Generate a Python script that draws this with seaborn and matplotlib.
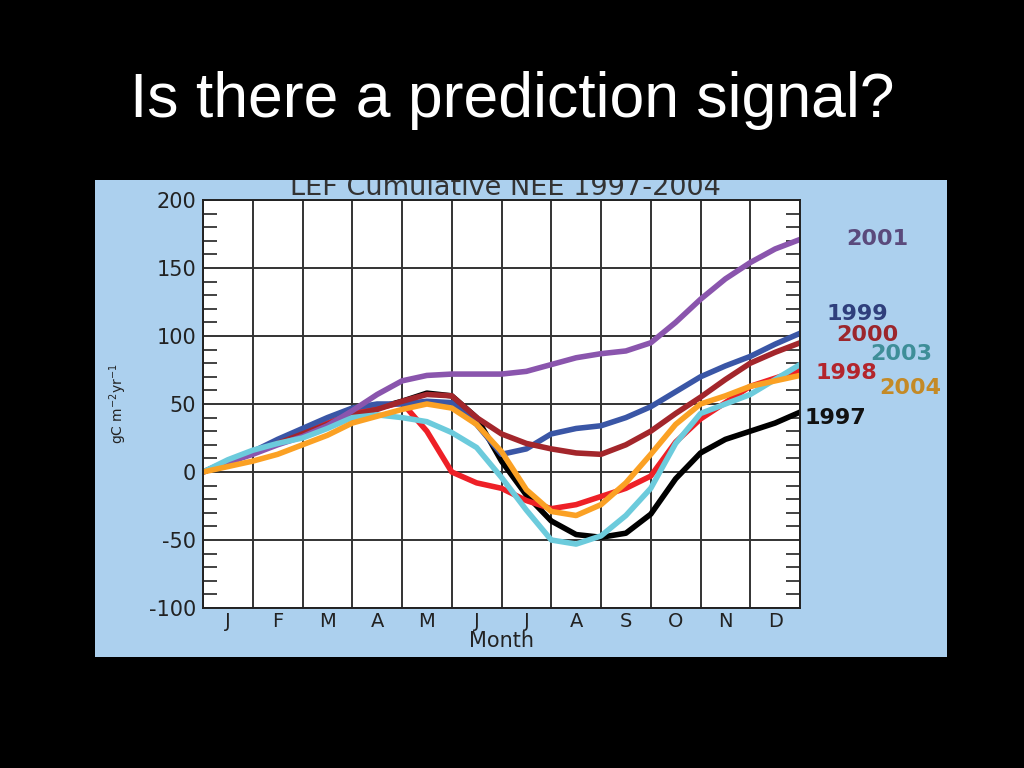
import numpy as np
import pandas as pd
import seaborn as sns
import matplotlib.pyplot as plt
from matplotlib.patches import Rectangle
from matplotlib.ticker import MultipleLocator
from matplotlib.transforms import Bbox, TransformedBbox

# Cumulative NEE at LEF, every half month

months = ["J", "F", "M", "A", "M", "J", "J", "A", "S", "O", "N", "D"]
t = np.arange(0, 12.5, 0.5)

nee_1997 = [0, 7, 14, 21, 28, 35, 43, 47, 52, 58, 56, 40, 8, -17, -36, -46, -48, -45, -31, -5, 14, 24, 30, 36, 44]
nee_1998 = [0, 7, 14, 22, 29, 36, 43, 47, 51, 30, 0, -8, -12, -21, -27, -24, -18, -12, -3, 22, 39, 51, 63, 69, 75]
nee_1999 = [0, 8, 15, 24, 32, 40, 47, 50, 50, 52, 51, 35, 13, 17, 28, 32, 34, 40, 48, 59, 70, 78, 85, 94, 102]
nee_2000 = [0, 7, 14, 21, 28, 35, 42, 46, 52, 57, 56, 40, 28, 21, 17, 14, 13, 20, 30, 43, 55, 68, 80, 88, 95]
nee_2001 = [0, 7, 13, 20, 26, 34, 45, 57, 67, 71, 72, 72, 72, 74, 79, 84, 87, 89, 95, 110, 127, 142, 154, 164, 171]
nee_2003 = [0, 9, 16, 21, 25, 32, 40, 42, 40, 37, 29, 18, -4, -28, -50, -53, -47, -32, -12, 21, 43, 50, 57, 68, 79]
nee_2004 = [0, 4, 8, 13, 20, 27, 36, 41, 46, 50, 47, 35, 15, -13, -29, -32, -24, -8, 13, 35, 50, 56, 63, 67, 71]

years = ["1997", "1998", "1999", "2000", "2001", "2003", "2004"]
series = [nee_1997, nee_1998, nee_1999, nee_2000, nee_2001, nee_2003, nee_2004]

line_colors = {"1997": "#000000", "1998": "#ee2027", "1999": "#3a56a6", "2000": "#a3262b",
               "2001": "#8a55ad", "2003": "#6ccbdc", "2004": "#fba124"}
label_colors = {"1997": "#111111", "1998": "#b3252c", "1999": "#2f3f7c", "2000": "#9c262c",
                "2001": "#5a4a7c", "2003": "#3e8e98", "2004": "#c48a26"}
# where the year names sit, in data units
label_pos = {"2001": (13.55, 171), "1999": (13.15, 116), "2000": (13.35, 101), "2003": (14.03, 87),
             "1998": (12.94, 73), "2004": (14.21, 62), "1997": (12.72, 40)}

df = pd.DataFrame({
    "month": np.tile(t, len(years)),
    "nee": np.concatenate(series),
    "year": np.repeat(years, len(t)),
})

sns.set_style("white")
plt.rcParams["font.family"] = ["DejaVu Sans"]

fig = plt.figure(figsize=(10.24, 7.68), dpi=100, facecolor="black")

# light blue panel behind the plot
px0, py0, pw, ph = 95 / 1024, 1 - 657 / 768, 852 / 1024, 477 / 768
panel = Rectangle((px0, py0), pw, ph, transform=fig.transFigure,
                  facecolor="#acd0ee", edgecolor="none", zorder=-5)
fig.patches.append(panel)

fig.text(0.5, 1 - 101 / 768, "Is there a prediction signal?", color="white",
         fontsize=45, family="Liberation Sans", ha="center", va="center")

ax = fig.add_axes([203 / 1024, 1 - 608 / 768, 597 / 1024, 408 / 768])
ax.set_zorder(2)
ax.set_facecolor("white")

sns.lineplot(data=df, x="month", y="nee", hue="year", hue_order=years,
             palette=line_colors, linewidth=4, legend=False, sort=False, ax=ax,
             solid_joinstyle="round", solid_capstyle="round")

ax.set_xlim(0, 12)
ax.set_ylim(-100, 200)
ax.set_xticks(range(13))
ax.set_xticklabels([])
ax.set_xticks(np.arange(0.5, 12, 1), minor=True)
ax.set_xticklabels(months, minor=True, fontsize=14, color="#222222")
ax.tick_params(axis="x", which="both", length=0, pad=3)

ax.set_yticks(range(-100, 201, 50))
ax.set_yticklabels([str(v) for v in range(-100, 201, 50)], fontsize=15, color="#222222")
ax.yaxis.set_minor_locator(MultipleLocator(10))
ax.tick_params(axis="y", which="major", length=0, pad=5)
ax.tick_params(axis="y", which="minor", direction="in", length=10, width=1.2,
               color="#222222", left=True, right=True)

ax.grid(True, which="major", color="#333333", linewidth=1.4)
for s in ax.spines.values():
    s.set_color("#222222")
    s.set_linewidth(1.4)

ax.set_xlabel("Month", fontsize=15, color="#222222", labelpad=0)
ax.set_ylabel(r"gC m$^{-2}$yr$^{-1}$", fontsize=10, color="#222222", labelpad=14)

for y in years:
    lx, ly = label_pos[y]
    ax.text(lx, ly, y, color=label_colors[y], fontsize=16, fontweight="bold",
            ha="center", va="center", clip_on=False)

# chart title, its top cut off by the panel edge
sub = fig.text(505 / 1024, 1 - 195 / 768, "LEF Cumulative NEE 1997-2004", color="#333333",
               fontsize=19.5, ha="center", va="baseline")
sub.set_clip_box(TransformedBbox(Bbox([[px0, py0], [px0 + pw, py0 + ph]]), fig.transFigure))
sub.set_clip_on(True)

fig.savefig("out.png", dpi=100, facecolor="black")
